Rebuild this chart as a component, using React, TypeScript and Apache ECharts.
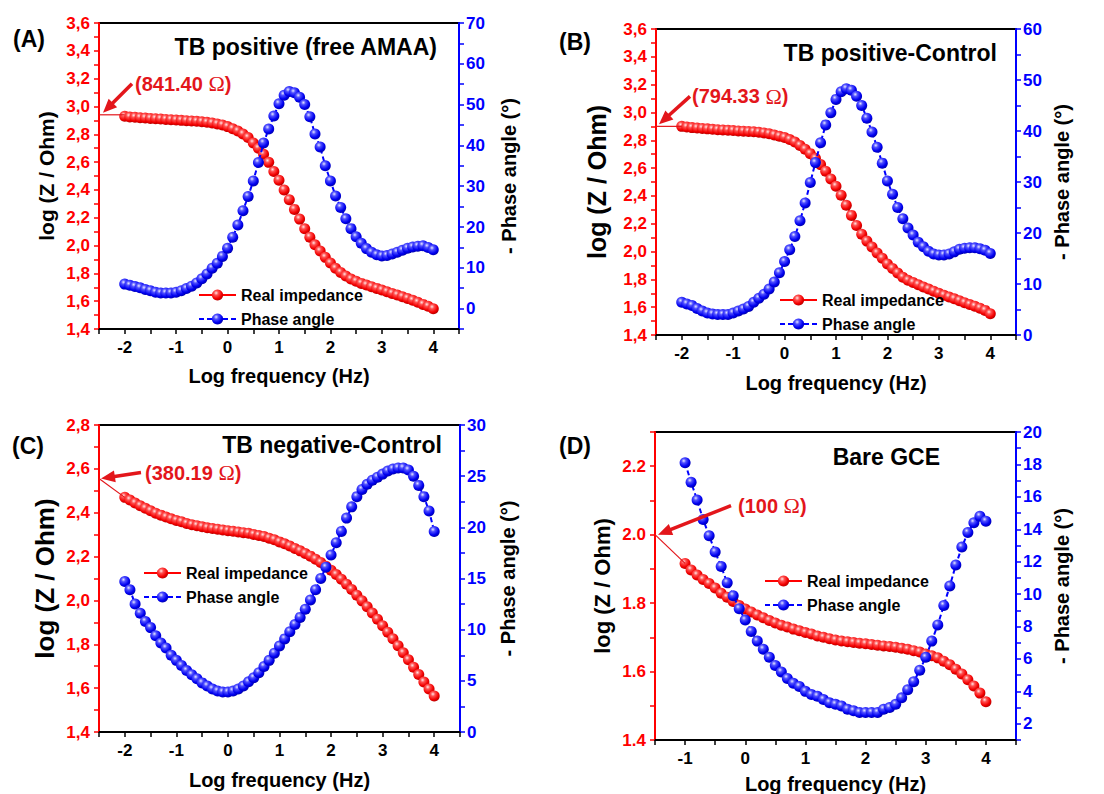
import React, { useEffect, useRef } from 'react';
import * as echarts from 'echarts';

// ---------- data ----------
const logFreqABC = [
  -2.0, -1.9, -1.8, -1.7, -1.6, -1.5, -1.4, -1.3, -1.2, -1.1,
  -1.0, -0.9, -0.8, -0.7, -0.6, -0.5, -0.4, -0.3, -0.2, -0.1,
  0.0, 0.1, 0.2, 0.3, 0.4, 0.5, 0.6, 0.7, 0.8, 0.9,
  1.0, 1.1, 1.2, 1.3, 1.4, 1.5, 1.6, 1.7, 1.8, 1.9,
  2.0, 2.1, 2.2, 2.3, 2.4, 2.5, 2.6, 2.7, 2.8, 2.9,
  3.0, 3.1, 3.2, 3.3, 3.4, 3.5, 3.6, 3.7, 3.8, 3.9,
  4.0,
];
const logFreqD = [
  -1.0, -0.9, -0.8, -0.7, -0.6, -0.5, -0.4, -0.3, -0.2, -0.1,
  0.0, 0.1, 0.2, 0.3, 0.4, 0.5, 0.6, 0.7, 0.8, 0.9,
  1.0, 1.1, 1.2, 1.3, 1.4, 1.5, 1.6, 1.7, 1.8, 1.9,
  2.0, 2.1, 2.2, 2.3, 2.4, 2.5, 2.6, 2.7, 2.8, 2.9,
  3.0, 3.1, 3.2, 3.3, 3.4, 3.5, 3.6, 3.7, 3.8, 3.9,
  4.0,
];

const realA = [
  2.929, 2.924, 2.922, 2.919, 2.917, 2.914, 2.912, 2.910, 2.907, 2.905,
  2.902, 2.900, 2.898, 2.895, 2.893, 2.890, 2.886, 2.881, 2.874, 2.867,
  2.855, 2.840, 2.823, 2.802, 2.776, 2.737, 2.699, 2.656, 2.598, 2.533,
  2.470, 2.400, 2.330, 2.260, 2.190, 2.120, 2.060, 2.005, 1.960, 1.915,
  1.874, 1.836, 1.807, 1.781, 1.759, 1.743, 1.728, 1.716, 1.704, 1.692,
  1.680, 1.668, 1.656, 1.644, 1.632, 1.620, 1.606, 1.592, 1.577, 1.563,
  1.546,
];
const phaseA = [
  6.0, 5.7, 5.4, 5.1, 4.7, 4.4, 4.0, 3.8, 3.8, 3.8,
  4.0, 4.4, 4.9, 5.5, 6.3, 7.3, 8.5, 9.9, 11.1, 12.8,
  14.8, 17.5, 20.5, 24.0, 27.5, 31.3, 35.8, 40.6, 44.0, 47.2,
  50.2, 52.3, 53.2, 52.9, 51.8, 50.0, 47.0, 42.8, 39.6, 35.0,
  31.3, 27.6, 24.8, 22.0, 19.6, 17.6, 16.0, 14.7, 13.8, 13.2,
  12.9, 13.0, 13.4, 13.8, 14.3, 14.8, 15.1, 15.3, 15.4, 15.0,
  14.4,
];

const realB = [
  2.900, 2.895, 2.891, 2.888, 2.885, 2.882, 2.879, 2.876, 2.874, 2.872,
  2.870, 2.867, 2.865, 2.863, 2.861, 2.858, 2.853, 2.847, 2.838, 2.829,
  2.820, 2.805, 2.787, 2.763, 2.735, 2.704, 2.670, 2.625, 2.578, 2.522,
  2.470, 2.405, 2.333, 2.260, 2.187, 2.125, 2.075, 2.033, 1.990, 1.952,
  1.911, 1.878, 1.846, 1.815, 1.793, 1.777, 1.762, 1.745, 1.730, 1.715,
  1.700, 1.686, 1.673, 1.660, 1.647, 1.632, 1.619, 1.606, 1.593, 1.577,
  1.552,
];
const phaseB = [
  6.4, 6.1, 5.8, 5.2, 4.7, 4.3, 4.1, 4.0, 4.0, 4.0,
  4.3, 4.7, 5.1, 5.6, 6.4, 7.2, 8.0, 9.0, 10.4, 12.2,
  14.4, 16.7, 19.3, 22.4, 25.9, 29.9, 33.8, 37.7, 41.2, 43.6,
  46.2, 47.7, 48.3, 48.0, 46.8, 45.0, 42.5, 39.8, 36.8, 33.7,
  30.2, 27.6, 25.0, 22.8, 21.0, 19.6, 18.2, 17.3, 16.4, 15.9,
  15.7, 15.7, 15.9, 16.3, 16.8, 17.0, 17.1, 17.1, 16.9, 16.6,
  16.0,
];

const realC = [
  2.470, 2.458, 2.444, 2.432, 2.420, 2.409, 2.398, 2.389, 2.380, 2.372,
  2.365, 2.359, 2.351, 2.345, 2.341, 2.336, 2.331, 2.328, 2.325, 2.321,
  2.318, 2.315, 2.312, 2.309, 2.306, 2.301, 2.296, 2.292, 2.284, 2.277,
  2.267, 2.258, 2.248, 2.237, 2.226, 2.214, 2.202, 2.188, 2.173, 2.156,
  2.138, 2.118, 2.097, 2.074, 2.050, 2.024, 1.998, 1.971, 1.943, 1.914,
  1.885, 1.855, 1.825, 1.793, 1.761, 1.729, 1.695, 1.662, 1.628, 1.596,
  1.564,
];
const phaseC = [
  14.7, 13.9, 12.5, 11.6, 10.8, 10.2, 9.4, 8.7, 8.2, 7.5,
  7.0, 6.5, 6.0, 5.6, 5.2, 4.8, 4.5, 4.2, 4.0, 3.9,
  3.9, 4.0, 4.2, 4.5, 4.9, 5.3, 5.8, 6.4, 7.0, 7.7,
  8.4, 9.1, 9.8, 10.5, 11.2, 12.0, 12.9, 13.9, 15.0, 16.1,
  17.3, 18.5, 19.6, 20.9, 22.0, 23.0, 23.7, 24.2, 24.6, 24.9,
  25.2, 25.5, 25.7, 25.8, 25.8, 25.6, 25.0, 24.1, 23.0, 21.6,
  19.6,
];

const realD = [
  1.916, 1.897, 1.882, 1.869, 1.857, 1.844, 1.829, 1.817, 1.805, 1.793,
  1.783, 1.774, 1.765, 1.757, 1.749, 1.742, 1.735, 1.730, 1.724, 1.719,
  1.714, 1.710, 1.704, 1.700, 1.696, 1.692, 1.689, 1.687, 1.685, 1.683,
  1.681, 1.679, 1.677, 1.675, 1.673, 1.671, 1.668, 1.665, 1.661, 1.657,
  1.651, 1.646, 1.640, 1.630, 1.620, 1.607, 1.593, 1.576, 1.558, 1.537,
  1.512,
];
const phaseD = [
  18.1, 16.9, 15.8, 14.6, 13.6, 12.6, 11.7, 10.7, 9.9, 9.1,
  8.4, 7.7, 7.1, 6.6, 6.1, 5.6, 5.2, 4.8, 4.5, 4.3,
  4.0, 3.8, 3.7, 3.5, 3.3, 3.2, 3.1, 2.9, 2.8, 2.7,
  2.7, 2.7, 2.7, 2.9, 3.0, 3.2, 3.6, 4.1, 4.6, 5.3,
  6.1, 7.1, 8.1, 9.3, 10.5, 11.8, 12.9, 13.8, 14.4, 14.8,
  14.5,
];

// tick labels
const xTicksABC = [-2, -1, 0, 1, 2, 3, 4];
const xTicksD = [-1, 0, 1, 2, 3, 4];
const leftTicksAB = [1.4, 1.6, 1.8, 2.0, 2.2, 2.4, 2.6, 2.8, 3.0, 3.2, 3.4, 3.6];
const leftTicksC = [1.4, 1.6, 1.8, 2.0, 2.2, 2.4, 2.6, 2.8];
const leftTicksD = [1.4, 1.6, 1.8, 2.0, 2.2];
const rightTicksA = [0, 10, 20, 30, 40, 50, 60, 70];
const rightTicksB = [0, 10, 20, 30, 40, 50, 60];
const rightTicksC = [0, 5, 10, 15, 20, 25, 30];
const rightTicksD = [2, 4, 6, 8, 10, 12, 14, 16, 18, 20];

// annotations
const panelTags = ['(A)', '(B)', '(C)', '(D)'];
const panelTitles = ['TB positive (free AMAA)', 'TB positive-Control', 'TB negative-Control', 'Bare GCE'];
const resistanceLabels = ['841.40', '794.33', '380.19', '100'];
const anchorLogZ = [2.94, 2.9, 2.556, 2.0];

const seriesNames = ['Real impedance', 'Phase angle'];
const xName = 'Log frequency (Hz)';
const leftName = 'log (Z / Ohm)';
const rightName = '- Phase angle (°)';

// ---------- styling / layout ----------
const FONT = '"Liberation Sans", Arial, Helvetica, sans-serif';
const SERIF = '"Liberation Serif", "Times New Roman", serif';
const RED = '#ff0000';
const BLUE = '#0000ff';
const NOTE_RED = '#e3161b';

const panels = [
  {
    x: logFreqABC, real: realA, phase: phaseA,
    grid: { left: 99, top: 23, width: 360, height: 306 },
    xMin: -2.5, xMax: 4.5, xTicks: xTicksABC,
    lMin: 1.4, lMax: 3.6, lTicks: leftTicksAB, comma: true,
    rMin: -5, rMax: 70, rStep: 5, rTicks: rightTicksA,
    leftNameSize: 21, leftGap: 42, rightGap: 40, xGap: 37,
    legend: [198, 287],
    tagPos: [13, 39], titlePos: [437, 47],
    lineToFirst: false, tipOff: [4, -2], tail: [29, -29], textOff: [3, 0],
  },
  {
    x: logFreqABC, real: realB, phase: phaseB,
    grid: { left: 656, top: 29, width: 360, height: 306 },
    xMin: -2.5, xMax: 4.5, xTicks: xTicksABC,
    lMin: 1.4, lMax: 3.6, lTicks: leftTicksAB, comma: true,
    rMin: 0, rMax: 60, rStep: 5, rTicks: rightTicksB,
    leftNameSize: 25, leftGap: 47, rightGap: 36, xGap: 38,
    legend: [779, 292],
    tagPos: [559, 42], titlePos: [997, 53],
    lineToFirst: false, tipOff: [3, -2], tail: [31, -28], textOff: [2, 0],
  },
  {
    x: logFreqABC, real: realC, phase: phaseC,
    grid: { left: 99, top: 425, width: 361, height: 307 },
    xMin: -2.5, xMax: 4.5, xTicks: xTicksABC,
    lMin: 1.4, lMax: 2.8, lTicks: leftTicksC, comma: true,
    rMin: 0, rMax: 30, rStep: 2.5, rTicks: rightTicksC,
    leftNameSize: 26, leftGap: 41, rightGap: 38, xGap: 38,
    legend: [143, 565],
    tagPos: [12, 446], titlePos: [442, 445],
    lineToFirst: true, tipOff: [2, 0], tail: [40, -6], textOff: [4, 0],
  },
  {
    x: logFreqD, real: realD, phase: phaseD,
    grid: { left: 655, top: 432, width: 361, height: 308 },
    xMin: -1.5, xMax: 4.5, xTicks: xTicksD,
    lMin: 1.4, lMax: 2.3, lTicks: leftTicksD, comma: false,
    rMin: 1, rMax: 20, rStep: 1, rTicks: rightTicksD,
    leftNameSize: 22, leftGap: 42, rightGap: 36, xGap: 34,
    legend: [764, 573],
    tagPos: [559, 446], titlePos: [940, 457],
    lineToFirst: true, tipOff: [3, 0], tail: [73, -29], textOff: [7, 0],
  },
];

const inList = (list: number[], v: number) => list.some((t) => Math.abs(t - v) < 1e-6);

const ball = (light: string, mid: string, main: string, dark: string) => ({
  type: 'radial', x: 0.38, y: 0.32, r: 0.72,
  colorStops: [
    { offset: 0, color: light },
    { offset: 0.28, color: mid },
    { offset: 0.7, color: main },
    { offset: 1, color: dark },
  ],
});
const redBall = ball('#ffe6e6', '#ff5050', '#f20000', '#b00000');
const blueBall = ball('#e6e6ff', '#5050ff', '#0000f0', '#0000a8');

function buildOption() {
  const grid: any[] = [];
  const xAxis: any[] = [];
  const yAxis: any[] = [];
  const series: any[] = [];
  const legend: any[] = [];

  panels.forEach((p, i) => {
    grid.push({
      ...p.grid, show: true, borderColor: '#000', borderWidth: 2,
      backgroundColor: 'transparent', containLabel: false, outerBoundsMode: 'none',
    });
    xAxis.push({
      gridIndex: i, type: 'value', position: 'bottom', min: p.xMin, max: p.xMax, interval: 0.5,
      axisLine: { show: true, onZero: false, lineStyle: { color: '#000', width: 2 } },
      axisTick: { show: true, inside: false, length: 5, lineStyle: { color: '#000', width: 1.5 } },
      axisLabel: {
        margin: 10, color: '#000', fontWeight: 'bold', fontSize: 17, fontFamily: FONT,
        formatter: (v: number) => (inList(p.xTicks, v) ? String(Math.round(v)) : ''),
      },
      splitLine: { show: false },
      name: xName, nameLocation: 'middle', nameGap: p.xGap,
      nameTextStyle: { color: '#000', fontWeight: 'bold', fontSize: 20, fontFamily: FONT },
    });
    yAxis.push({
      gridIndex: i, type: 'value', position: 'left', min: p.lMin, max: p.lMax, interval: 0.1,
      axisLine: { show: true, onZero: false, lineStyle: { color: RED, width: 2 } },
      axisTick: { show: true, inside: false, length: 5, lineStyle: { color: RED, width: 1.5 } },
      axisLabel: {
        margin: 9, color: RED, fontWeight: 'bold', fontSize: 17, fontFamily: FONT,
        formatter: (v: number) => {
          if (!inList(p.lTicks, v)) return '';
          const s = v.toFixed(1);
          return p.comma ? s.replace('.', ',') : s;
        },
      },
      splitLine: { show: false },
      name: leftName, nameLocation: 'middle', nameGap: p.leftGap, nameRotate: 90,
      nameTextStyle: { color: '#000', fontWeight: 'bold', fontSize: p.leftNameSize, fontFamily: FONT },
    });
    yAxis.push({
      gridIndex: i, type: 'value', position: 'right', min: p.rMin, max: p.rMax, interval: p.rStep,
      axisLine: { show: true, onZero: false, lineStyle: { color: BLUE, width: 2 } },
      axisTick: { show: true, inside: false, length: 5, lineStyle: { color: BLUE, width: 1.5 } },
      axisLabel: {
        margin: 7, color: BLUE, fontWeight: 'bold', fontSize: 17, fontFamily: FONT,
        formatter: (v: number) => (inList(p.rTicks, v) ? String(Math.round(v)) : ''),
      },
      splitLine: { show: false },
      name: rightName, nameLocation: 'middle', nameGap: p.rightGap, nameRotate: 90,
      nameTextStyle: { color: '#000', fontWeight: 'bold', fontSize: 20, fontFamily: FONT },
    });
    series.push({
      type: 'line', name: seriesNames[0], xAxisIndex: i, yAxisIndex: 2 * i,
      data: p.x.map((xv, k) => [xv, p.real[k]]),
      symbol: 'circle', symbolSize: 11, showAllSymbol: true,
      itemStyle: { color: redBall },
      lineStyle: { color: RED, width: 1.5 },
      z: 3,
    });
    series.push({
      type: 'line', name: seriesNames[1], xAxisIndex: i, yAxisIndex: 2 * i + 1,
      data: p.x.map((xv, k) => [xv, p.phase[k]]),
      symbol: 'circle', symbolSize: 11, showAllSymbol: true,
      itemStyle: { color: blueBall },
      lineStyle: { color: BLUE, width: 2, type: [5, 3] },
      z: 4,
    });
    legend.push({
      left: p.legend[0], top: p.legend[1], orient: 'vertical', padding: 0,
      itemGap: 8, itemWidth: 37, itemHeight: 14, selectedMode: false,
      data: seriesNames,
      textStyle: { color: '#000', fontWeight: 'bold', fontSize: 16, fontFamily: FONT },
    });
  });

  return {
    animation: false,
    backgroundColor: '#fff',
    grid, xAxis, yAxis, series, legend,
  };
}

function buildGraphics(chart: any) {
  const g: any[] = [];
  panels.forEach((p, i) => {
    g.push({
      type: 'text', x: p.tagPos[0], y: p.tagPos[1], z: 20,
      style: { text: panelTags[i], fill: '#000', font: `bold 23px ${FONT}`, align: 'left', verticalAlign: 'middle' },
    });
    g.push({
      type: 'text', x: p.titlePos[0], y: p.titlePos[1], z: 20,
      style: { text: panelTitles[i], fill: '#000', font: `bold 23px ${FONT}`, align: 'right', verticalAlign: 'middle' },
    });

    const finder = { xAxisIndex: i, yAxisIndex: 2 * i };
    const anchor = chart.convertToPixel(finder, [p.xMin, anchorLogZ[i]]);
    const end = p.lineToFirst
      ? chart.convertToPixel(finder, [p.x[0], p.real[0]])
      : chart.convertToPixel(finder, [p.x[0], anchorLogZ[i]]);
    // thin connector
    g.push({
      type: 'line', z: 15,
      shape: { x1: anchor[0], y1: anchor[1], x2: end[0], y2: end[1] },
      style: { stroke: NOTE_RED, lineWidth: 1.2 },
    });
    // arrow
    const tip = [anchor[0] + p.tipOff[0], anchor[1] + p.tipOff[1]];
    const tail = [tip[0] + p.tail[0], tip[1] + p.tail[1]];
    const dx = tip[0] - tail[0];
    const dy = tip[1] - tail[1];
    const len = Math.sqrt(dx * dx + dy * dy);
    const ux = dx / len;
    const uy = dy / len;
    const L = 14;
    const W = 6;
    const base = [tip[0] - ux * L, tip[1] - uy * L];
    g.push({
      type: 'line', z: 16,
      shape: { x1: tail[0], y1: tail[1], x2: base[0] + ux * 2, y2: base[1] + uy * 2 },
      style: { stroke: NOTE_RED, lineWidth: 3.5 },
    });
    g.push({
      type: 'polygon', z: 16,
      shape: { points: [tip, [base[0] - uy * W, base[1] + ux * W], [base[0] + uy * W, base[1] - ux * W]] },
      style: { fill: NOTE_RED },
    });
    g.push({
      type: 'text', x: tail[0] + p.textOff[0], y: tail[1] + p.textOff[1], z: 20,
      style: {
        text: `{a|(${resistanceLabels[i]} }{b|Ω}{a|)}`,
        align: 'left', verticalAlign: 'middle', fill: NOTE_RED,
        rich: {
          a: { fontFamily: FONT, fontWeight: 'bold', fontSize: 20, fill: NOTE_RED },
          b: { fontFamily: SERIF, fontWeight: 'normal', fontSize: 22, fill: NOTE_RED },
        },
      },
    });
  });
  return g;
}

export default function App() {
  const ref = useRef<HTMLDivElement>(null);
  useEffect(() => {
    document.body.style.margin = '0';
    const chart = echarts.init(ref.current as HTMLDivElement, null, { renderer: 'svg' });
    chart.setOption(buildOption() as any);
    chart.setOption({ graphic: buildGraphics(chart) } as any);
    return () => chart.dispose();
  }, []);
  return (
    <div
      ref={ref}
      style={{ position: 'absolute', left: 0, top: 0, width: 1104, height: 794, background: '#fff' }}
    />
  );
}
